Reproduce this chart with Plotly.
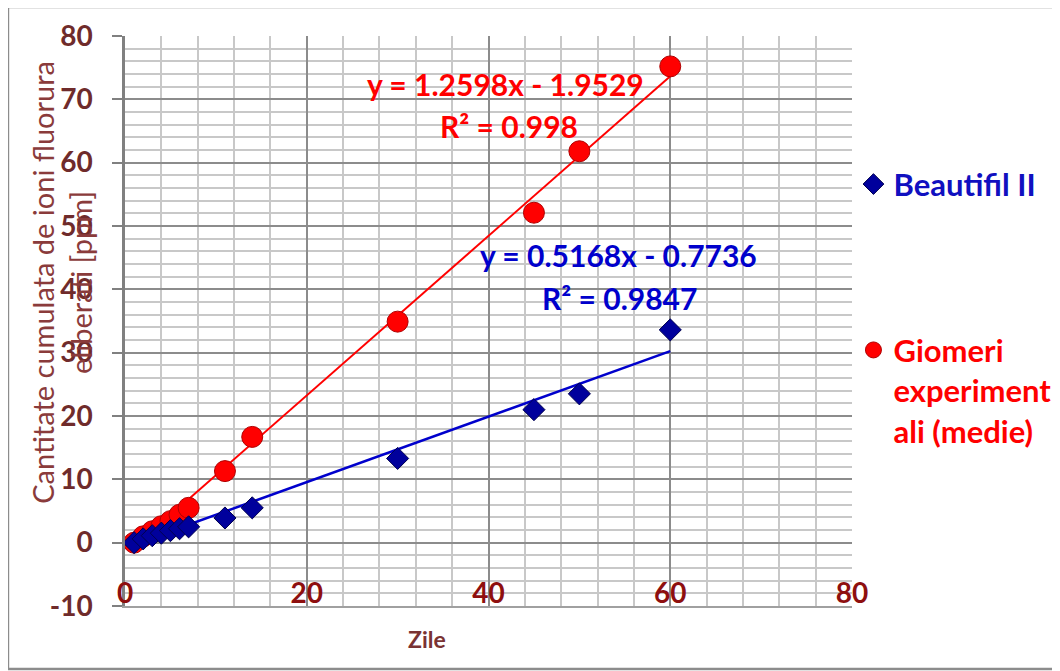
import plotly.graph_objects as go

# ---- data ----
days = [1, 2, 3, 4, 5, 6, 7, 11, 14, 30, 45, 50, 60]
beautifil = [0.0, 0.6, 1.1, 1.5, 1.9, 2.2, 2.5, 3.9, 5.5, 13.3, 21.0, 23.5, 33.6]
giomeri = [0.0, 1.0, 1.8, 2.6, 3.4, 4.4, 5.5, 11.3, 16.7, 34.9, 52.1, 61.8, 75.2]

series_names = ["Beautifil II", "Giomeri<br>experiment<br>ali (medie)"]
trend_beautifil = [0.5168, -0.7736]   # slope, intercept
trend_giomeri = [1.2598, -1.9529]
r2_beautifil = "0.9847"
r2_giomeri = "0.998"

x_ticks = [0, 20, 40, 60, 80]
y_ticks = [-10, 0, 10, 20, 30, 40, 50, 60, 70, 80]

FONT = "Lato"
BLUE = "#0000CC"
RED = "#FF0000"
TICK_BROWN = "#6F2B2B"
TITLE_BROWN = "#8A3B3B"

x_ends = [min(days), max(days)]

fig = go.Figure()

# trendlines
fig.add_trace(go.Scatter(
    x=x_ends, y=[trend_giomeri[0] * v + trend_giomeri[1] for v in x_ends],
    mode="lines", line=dict(color=RED, width=2), showlegend=False, hoverinfo="skip"))
fig.add_trace(go.Scatter(
    x=x_ends, y=[trend_beautifil[0] * v + trend_beautifil[1] for v in x_ends],
    mode="lines", line=dict(color=BLUE, width=2.5), showlegend=False, hoverinfo="skip"))

# data series
fig.add_trace(go.Scatter(
    x=days, y=giomeri, mode="markers", name="<b>" + series_names[1] + "</b>",
    marker=dict(symbol="circle", size=21, color=RED, line=dict(color="#B00000", width=1)),
    legend="legend2"))
fig.add_trace(go.Scatter(
    x=days, y=beautifil, mode="markers", name="<b>" + series_names[0] + "</b>",
    marker=dict(symbol="diamond", size=17, color="#00009C", line=dict(color="#000050", width=1)),
    legend="legend"))

ann = []
ann.append(dict(x=41.9, y=72.4, xref="x", yref="y", showarrow=False,
                text="<b>y = %.4fx - %.4f</b>" % (trend_giomeri[0], -trend_giomeri[1]),
                font=dict(family=FONT, size=30, color=RED)))
ann.append(dict(x=42.3, y=65.8, xref="x", yref="y", showarrow=False,
                text="<b>R² = %s</b>" % r2_giomeri,
                font=dict(family=FONT, size=30, color=RED)))
ann.append(dict(x=54.3, y=45.4, xref="x", yref="y", showarrow=False,
                text="<b>y = %.4fx - %.4f</b>" % (trend_beautifil[0], -trend_beautifil[1]),
                font=dict(family=FONT, size=30, color=BLUE)))
ann.append(dict(x=54.4, y=38.6, xref="x", yref="y", showarrow=False,
                text="<b>R² = %s</b>" % r2_beautifil,
                font=dict(family=FONT, size=30, color=BLUE)))
# axis titles
ann.append(dict(x=-0.0873, y=0.568, xref="paper", yref="paper", showarrow=False,
                textangle=-90, xanchor="center", yanchor="middle",
                text="Cantitate cumulata de ioni fluorura<br>eliberati [ppm]",
                font=dict(family=FONT, size=29, color=TITLE_BROWN)))
ann.append(dict(x=0.415, y=-0.058, xref="paper", yref="paper", showarrow=False,
                xanchor="center", yanchor="middle",
                text="<b>Zile</b>", font=dict(family=FONT, size=23, color="#7A3333")))

# the page body adds an 8 px offset; margins compensate so the plot area
# lands at x 125..852, y 36..606 of the window
fig.update_layout(
    width=1060, height=671,
    margin=dict(l=117, r=216, t=28, b=73, autoexpand=False),
    paper_bgcolor="white", plot_bgcolor="white",
    font=dict(family=FONT),
    annotations=ann,
    legend=dict(x=1.002, y=0.787, xanchor="left", yanchor="top",
                font=dict(family=FONT, size=31, color="#1010C0"),
                bgcolor="rgba(0,0,0,0)", valign="top"),
    legend2=dict(x=1.002, y=0.496, xanchor="left", yanchor="top",
                 font=dict(family=FONT, size=31, color=RED),
                 bgcolor="rgba(0,0,0,0)", valign="top"),
    shapes=[dict(type="rect", xref="paper", yref="paper",
                 x0=-0.161, x1=1.29, y0=-0.1105, y1=1.0509,
                 line=dict(color="#8C8C8C", width=2.5), layer="below")],
)

fig.update_xaxes(
    range=[0, 80], tickvals=x_ticks, ticktext=[str(v) for v in x_ticks],
    ticklabelposition="inside", ticklabeloverflow="allow",
    tickfont=dict(family=FONT, size=28, color="#8E0F0F", weight="bold"),
    showgrid=True, gridcolor="#8C8C8C", gridwidth=2,
    minor=dict(dtick=4, showgrid=True, gridcolor="#C8C8C8", gridwidth=1.5),
    showline=True, linecolor="#A0A0A0", linewidth=2,
    zeroline=False, ticks="", automargin=False)

fig.update_yaxes(
    range=[-10, 80], tickvals=y_ticks, ticktext=[str(v) for v in y_ticks],
    tickfont=dict(family=FONT, size=28, color=TICK_BROWN, weight="bold"),
    ticks="outside", ticklen=10, tickwidth=2, tickcolor="#808080",
    ticklabelstandoff=14,
    showgrid=True, gridcolor="#8C8C8C", gridwidth=2,
    minor=dict(dtick=2, showgrid=True, gridcolor="#C8C8C8", gridwidth=2),
    showline=True, linecolor="#808080", linewidth=2.5,
    zeroline=False, automargin=False)

fig.write_html("out.html")
